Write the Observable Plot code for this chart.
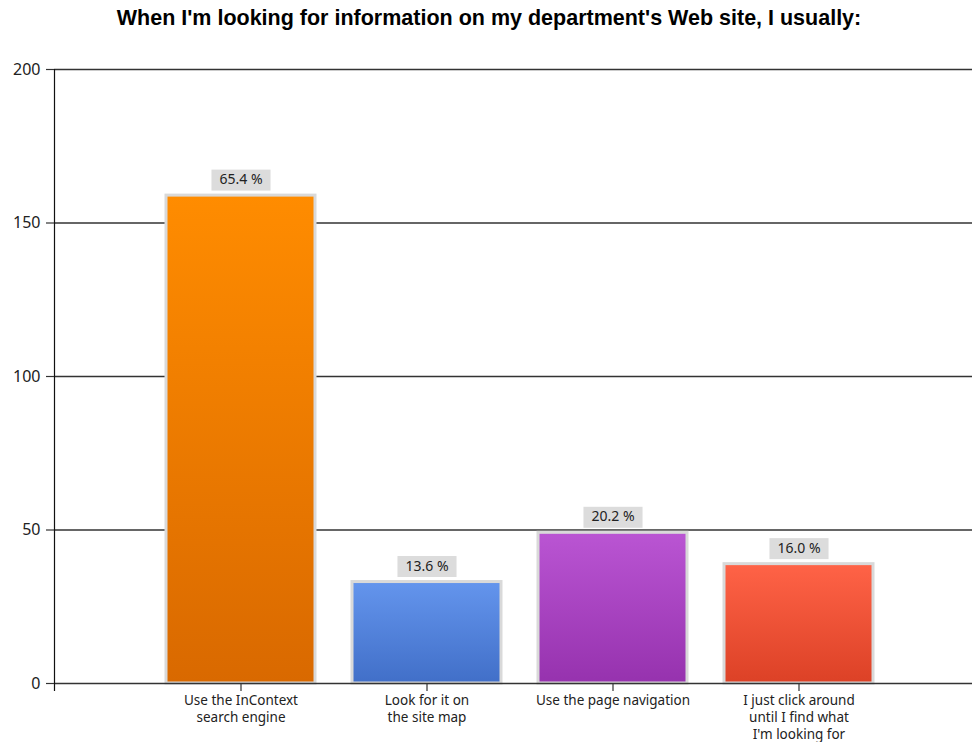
<!DOCTYPE html>
<html>
<head>
<meta charset="utf-8">
<script src="https://cdn.jsdelivr.net/npm/d3@7"></script>
<script src="https://cdn.jsdelivr.net/npm/@observablehq/plot@0.6"></script>
<style>
  html, body { margin: 0; padding: 0; background: #fff; }
  #title {
    height: 40px; line-height: 40px; width: 972px; padding-left: 6px; box-sizing: border-box;
    text-align: center; font: bold 21.5px "Liberation Sans", Arial, sans-serif; color: #000;
  }
  #title span { position: relative; top: 6px; }
  #chart svg { display: block; }
</style>
</head>
<body>
<div id="title"><span>When I'm looking for information on my department's Web site, I usually:</span></div>
<div id="chart"></div>
<script>
// Survey answers (multiple choice allowed, so shares do not sum to 100 %)
const categories = [
  "Use the InContext\nsearch engine",
  "Look for it on\nthe site map",
  "Use the page navigation",
  "I just click around\nuntil I find what\nI'm looking for"
];
const percents = [65.4, 13.6, 20.2, 16.0];
const respondents = 243;
const yTicks = [0, 50, 100, 150, 200];
const topColors = ["#ff8c00", "#6495ed", "#ba55d3", "#ff6347"];
const bottomColors = ["#d96900", "#416fc8", "#9632ae", "#dc4126"];

const data = categories.map((c, i) => ({
  category: c,
  count: percents[i] / 100 * respondents,
  label: percents[i].toFixed(1) + " %",
  fill: `url(#bar-grad-${i})`
}));

const chart = Plot.plot({
  width: 972,
  height: 702,
  marginLeft: 54,
  marginRight: 0,
  marginTop: 29,
  marginBottom: 59,
  style: { fontFamily: "'Noto Sans', 'Open Sans', sans-serif", color: "#222", background: "#fff" },
  x: { domain: categories, range: [147, 891], paddingInner: 0.2, paddingOuter: 0.1 },
  y: { domain: [0, 200] },
  color: { type: "identity" },
  marks: [
    Plot.ruleY(yTicks.filter(t => t > 0), { stroke: "#333", strokeWidth: 1.4 }),
    Plot.barY(data, {
      x: "category", y: "count", fill: "fill",
      stroke: "#d9d9d9", strokeWidth: 3
    }),
    Plot.ruleY([0], { stroke: "#333", strokeWidth: 1.4 }),
    Plot.frame({ anchor: "left", stroke: "#111", strokeWidth: 1.2, insetBottom: -7 }),
    Plot.axisY({ ticks: yTicks, tickSize: 8, tickPadding: 6, fontSize: 16, label: null, stroke: "#333", strokeWidth: 1.2 }),
    Plot.axisX({ tickSize: 8, tickPadding: 2, fontSize: 13.5, lineHeight: 1.25, label: null, stroke: "#333", strokeWidth: 1.2 }),
    Plot.text(data, {
      x: "category", y: "count", text: "label", dy: -16,
      fontSize: 14, fill: "#222", className: "value-label"
    })
  ]
});

document.getElementById("chart").appendChild(chart);

// Vertical gradients for the bars
const svg = d3.select(chart);
const defs = svg.insert("defs", ":first-child");
topColors.forEach((c, i) => {
  const g = defs.append("linearGradient")
    .attr("id", `bar-grad-${i}`)
    .attr("x1", 0).attr("y1", 0).attr("x2", 0).attr("y2", 1);
  g.append("stop").attr("offset", "0%").attr("stop-color", c);
  g.append("stop").attr("offset", "100%").attr("stop-color", bottomColors[i]);
});

// Light gray boxes behind the value labels
svg.selectAll(".value-label text").each(function () {
  const b = this.getBBox();
  const t = this.getAttribute("transform");
  d3.select(this.parentNode).insert("rect", () => this)
    .attr("x", b.x - 8).attr("y", b.y + 0.5)
    .attr("width", b.width + 16).attr("height", b.height + 2)
    .attr("transform", t)
    .attr("fill", "#dcdcdc");
});
</script>
</body>
</html>
